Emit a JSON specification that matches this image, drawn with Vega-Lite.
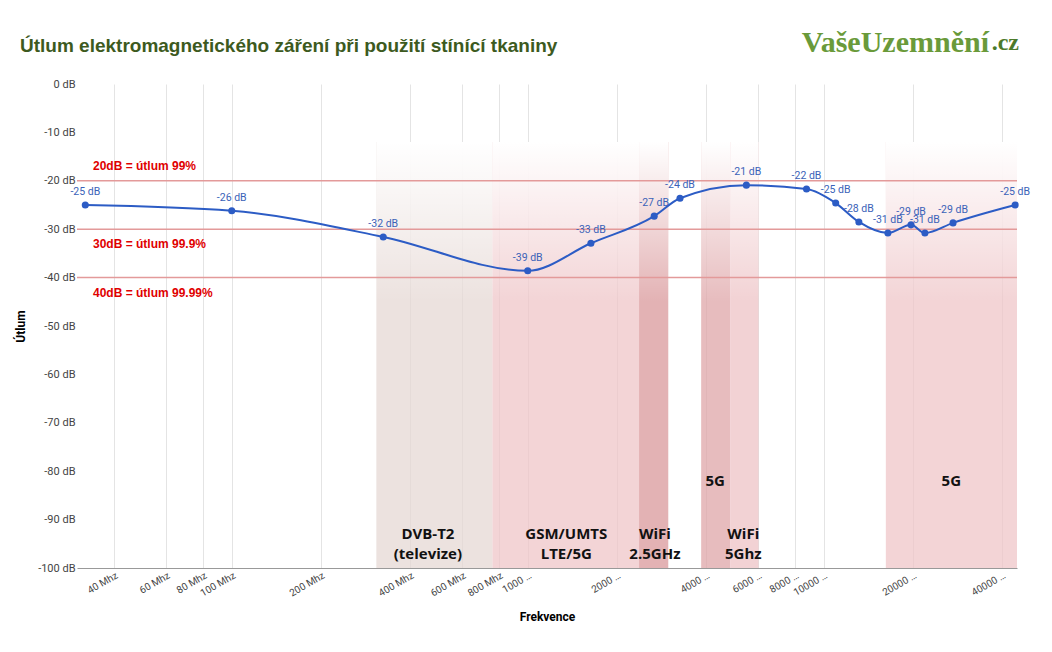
{
  "$schema": "https://vega.github.io/schema/vega-lite/v6.json",
  "width": 940,
  "height": 484,
  "autosize": {"type": "none"},
  "padding": {"left": 77, "top": 84, "right": 35, "bottom": 84},
  "background": "white",
  "config": {"font": "Roboto", "view": {"stroke": null}},
  "datasets": {
    "points": [
      {"f": 32, "db": -25}, {"f": 100, "db": -26.2}, {"f": 325, "db": -31.6},
      {"f": 1000, "db": -38.6}, {"f": 1635, "db": -32.9}, {"f": 2675, "db": -27.3},
      {"f": 3270, "db": -23.6}, {"f": 5480, "db": -20.9}, {"f": 8750, "db": -21.7},
      {"f": 10980, "db": -24.6}, {"f": 13150, "db": -28.5}, {"f": 16480, "db": -30.8},
      {"f": 19730, "db": -29.1}, {"f": 21980, "db": -30.8}, {"f": 27360, "db": -28.7},
      {"f": 44350, "db": -25}
    ],
    "bands": [
      {"f1": 308, "f2": 760, "c": "#e6d8d4"},
      {"f1": 760, "f2": 2378, "c": "#efc6c8"},
      {"f1": 2378, "f2": 2985, "c": "#d9989b"},
      {"f1": 3855, "f2": 4840, "c": "#dfa5a8"},
      {"f1": 4840, "f2": 6025, "c": "#eec3c5"},
      {"f1": 16220, "f2": 45000, "c": "#efc6c8"}
    ],
    "labels": [
      {"f": 460, "y": -93, "t": "DVB-T2\n(televize)"},
      {"f": 1350, "y": -93, "t": "GSM/UMTS\n LTE/5G"},
      {"f": 2690, "y": -93, "t": "WiFi\n2.5GHz"},
      {"f": 4300, "y": -82, "t": "5G"},
      {"f": 5350, "y": -93, "t": "WiFi\n5Ghz"},
      {"f": 27000, "y": -82, "t": "5G"}
    ],
    "thresholds": [
      {"db": -20, "t": "20dB = útlum 99%"},
      {"db": -30, "t": "30dB = útlum 99.9%"},
      {"db": -40, "t": "40dB = útlum 99.99%"}
    ]
  },
  "layer": [
    {
      "data": {"name": "bands"},
      "mark": {"type": "rect", "opacity": 0.75},
      "encoding": {
        "x": {"field": "f1", "type": "quantitative",
          "scale": {"type": "log", "domain": [30, 45000], "nice": false},
          "axis": {"title": "Frekvence", "titleFont": "Roboto", "titleFontSize": 12, "titleFontWeight": "bold", "titlePadding": 14,
            "values": [40, 60, 80, 100, 200, 400, 600, 800, 1000, 2000, 4000, 6000, 8000, 10000, 20000, 40000],
            "labelExpr": "datum.value + ' Mhz'", "labelLimit": 40, "labelAngle": -30, "labelFontSize": 10, "labelColor": "#444",
            "labelOverlap": false, "grid": true, "gridColor": "#e4e4e4", "ticks": false, "domainColor": "#999"}},
        "x2": {"field": "f2"},
        "y": {"datum": -100, "type": "quantitative"},
        "y2": {"datum": -12}
        ,"color": {"field": "c", "type": "nominal", "scale": null}
      }
    },
    {
      "data": {"name": "bands"},
      "mark": {"type": "rect", "color": {"gradient": "linear", "x1": 0, "y1": 0, "x2": 0, "y2": 1,
        "stops": [{"offset": 0, "color": "rgba(255,255,255,1)"}, {"offset": 0.6, "color": "rgba(255,255,255,0.4)"}, {"offset": 1, "color": "rgba(255,255,255,0)"}]}},
      "encoding": {
        "x": {"field": "f1", "type": "quantitative"},
        "x2": {"field": "f2"},
        "y": {"datum": -45, "type": "quantitative"},
        "y2": {"datum": -12}
      }
    },
    {
      "data": {"name": "thresholds"},
      "mark": {"type": "rule", "color": "#e39a9a", "strokeWidth": 1.5},
      "encoding": {"y": {"field": "db", "type": "quantitative"}}
    },
    {
      "data": {"name": "thresholds"},
      "transform": [{"filter": "datum.db == -20"}],
      "mark": {"type": "text", "color": "#e00000", "fontWeight": "bold", "fontSize": 12, "align": "left", "dx": 16, "dy": -15, "font": "Liberation Sans"},
      "encoding": {"y": {"field": "db", "type": "quantitative"}, "x": {"datum": 30, "type": "quantitative"}, "text": {"field": "t"}}
    },
    {
      "data": {"name": "thresholds"},
      "transform": [{"filter": "datum.db != -20"}],
      "mark": {"type": "text", "color": "#e00000", "fontWeight": "bold", "fontSize": 12, "align": "left", "dx": 16, "dy": 15, "font": "Liberation Sans"},
      "encoding": {"y": {"field": "db", "type": "quantitative"}, "x": {"datum": 30, "type": "quantitative"}, "text": {"field": "t"}}
    },
    {
      "data": {"name": "labels"},
      "mark": {"type": "text", "fontSize": 15, "fontWeight": "bold", "lineBreak": "\n", "color": "#111", "font": "Open Sans", "lineHeight": 20},
      "encoding": {"x": {"field": "f", "type": "quantitative"}, "y": {"field": "y", "type": "quantitative"}, "text": {"field": "t"}}
    },
    {
      "data": {"name": "points"},
      "mark": {"type": "line", "interpolate": "monotone", "color": "#2c5cc5", "strokeWidth": 2},
      "encoding": {
        "x": {"field": "f", "type": "quantitative"},
        "y": {"field": "db", "type": "quantitative", "scale": {"domain": [-100, 0]},
          "axis": {"title": "Útlum", "titleFontSize": 12, "titleFontWeight": "bold", "titlePadding": 10,
            "values": [0, -10, -20, -30, -40, -50, -60, -70, -80, -90, -100],
            "labelExpr": "datum.value + ' dB'", "labelFontSize": 11, "labelColor": "#444",
            "gridColor": "#d8d8d8", "ticks": false, "domain": false}}
      }
    },
    {
      "data": {"name": "points"},
      "mark": {"type": "point", "filled": true, "color": "#2c5cc5", "size": 50, "opacity": 1},
      "encoding": {"x": {"field": "f", "type": "quantitative"}, "y": {"field": "db", "type": "quantitative"}}
    },
    {
      "data": {"name": "points"},
      "transform": [{"calculate": "round(datum.db) + ' dB'", "as": "lbl"}],
      "mark": {"type": "text", "color": "#3a62b8", "fontSize": 10.5, "dy": -13},
      "encoding": {"x": {"field": "f", "type": "quantitative"}, "y": {"field": "db", "type": "quantitative"},
        "text": {"field": "lbl"}}
    },
    {
      "data": {"values": [{"t": "Útlum elektromagnetického záření při použití stínící tkaniny"}]},
      "mark": {"type": "text", "align": "left", "dy": -38, "dx": -57, "fontSize": 19, "fontWeight": "bold", "font": "Liberation Sans", "color": "#3d5a1e"},
      "encoding": {"x": {"datum": 30, "type": "quantitative"}, "y": {"datum": 0, "type": "quantitative"}, "text": {"field": "t"}}
    },
    {
      "data": {"values": [{"t": "VašeUzemnění"}]},
      "mark": {"type": "text", "align": "right", "dy": -41, "dx": -28, "fontSize": 30, "fontWeight": "bold", "font": "Liberation Serif", "color": "#6a9a3a"},
      "encoding": {"x": {"datum": 45000, "type": "quantitative"}, "y": {"datum": 0, "type": "quantitative"}, "text": {"field": "t"}}
    },
    {
      "data": {"values": [{"c": ".cz"}]},
      "mark": {"type": "text", "align": "right", "dy": -41, "dx": 2, "fontSize": 24, "fontWeight": "bold", "font": "Liberation Serif", "color": "#4b7a2a"},
      "encoding": {"x": {"datum": 45000, "type": "quantitative"}, "y": {"datum": 0, "type": "quantitative"}, "text": {"field": "c"}}
    }
  ]
}
